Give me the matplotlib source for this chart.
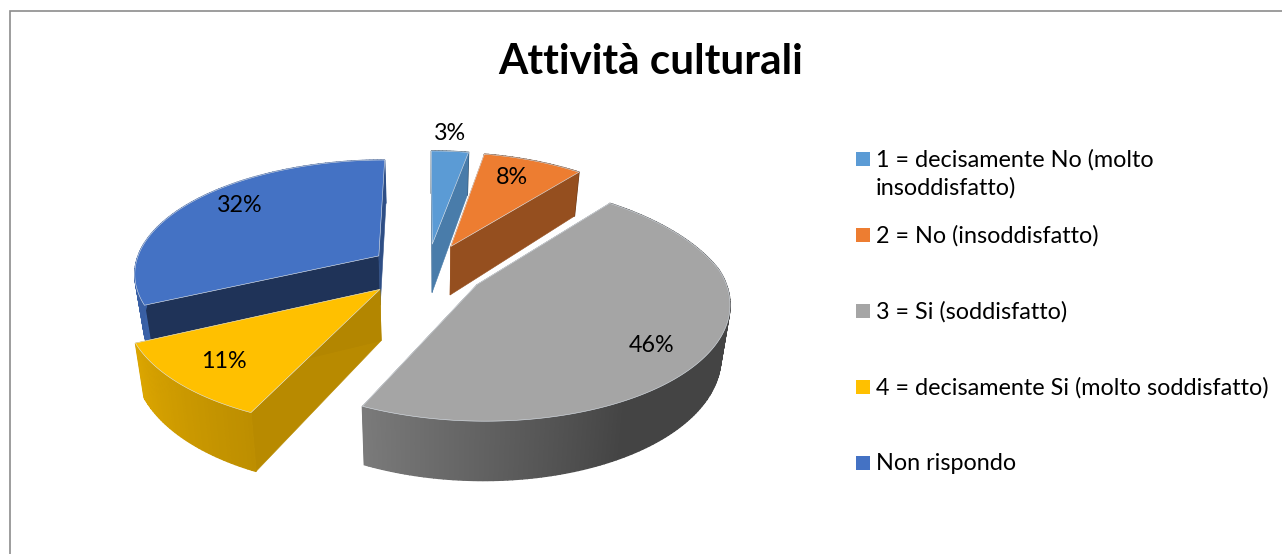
import numpy as np
import matplotlib
matplotlib.use("Agg")
import matplotlib.pyplot as plt
from matplotlib.patches import Rectangle

TITLE = "Attività culturali"
categories = [
    "1 = decisamente No (molto\ninsoddisfatto)",
    "2 = No (insoddisfatto)",
    "3 = Si (soddisfatto)",
    "4 = decisamente Si (molto soddisfatto)",
    "Non rispondo",
]
values = [3, 8, 46, 11, 32]
colors = ["#5B9BD5", "#ED7D31", "#A5A5A5", "#FFC000", "#4472C4"]

# layout, in pixels of the 1282x554 picture
CX, CY = 427, 270
RX, RY = 245, 113
PERSP = 0.14
DEPTH = 50
EXPLODE = 0.237
slice_dx = [0, 0, 0, -5, 0]
label_xy = [(450, 133), (512, 177), (652, 346), (224, 362), (240, 206)]
legend_y = [159, 235, 311, 387, 463]

# darkening of the two flat cut faces (start, end) of each slice
face_shade = [(0.7, 0.8), (0.7, 0.63), (0.6, 0.6), (0.72, 0.7), (0.45, 0.68)]
draw_order = [4, 0, 1, 2, 3]

plt.rcParams['font.family'] = ['Lato', 'DejaVu Sans']


def project(x, y, z=0.0):
    s = 1.0 / (1.0 - PERSP * y)
    sx = np.where((s > 1) | (np.asarray(x) < 0), s, s ** 1.35) * (1 - 0.03 * z)
    return CX + RX * x * sx, CY + RY * y * s + z * DEPTH * s


def wall_shade(theta):
    return np.interp(theta, [0, 150, 205, 245, 290, 360], [0.41, 0.41, 0.74, 0.86, 0.8, 0.7])


def darker(color, f):
    rgb = np.array(matplotlib.colors.to_rgb(color))
    return tuple(rgb * f)


fig = plt.figure(figsize=(12.82, 5.54), dpi=100)
ax = fig.add_axes([0, 0, 1, 1])
ax.set_xlim(0, 1282)
ax.set_ylim(554, 0)
ax.axis("off")

ax.plot([1282, 10, 10], [11, 11, 554], color="#8c8c8c", lw=1.2, solid_joinstyle="miter")

edges = np.cumsum([0] + values) / sum(values) * 360.0

for n, i in enumerate(draw_order):
    t0, t1 = edges[i], edges[i + 1]
    mid = np.radians((t0 + t1) / 2)
    ox, oy = EXPLODE * np.sin(mid), -EXPLODE * np.cos(mid)

    th = np.linspace(t0, t1, max(int(t1 - t0), 2) + 1)
    px = ox + np.sin(np.radians(th))
    py = oy - np.cos(np.radians(th))

    tx, ty = project(px, py)
    bx, by = project(px, py, 1.0)
    ax0, ay0 = project(ox, oy)
    ax1, ay1 = project(ox, oy, 1.0)
    tx, bx, ax0, ax1 = tx + slice_dx[i], bx + slice_dx[i], ax0 + slice_dx[i], ax1 + slice_dx[i]

    # back part of the wall goes under the cut faces, front part over them
    for k in range(len(th) - 1):
        tm = (th[k] + th[k + 1]) / 2
        z = 4 if 90 < tm < 270 else 1
        ax.fill([tx[k], tx[k + 1], bx[k + 1], bx[k]], [ty[k], ty[k + 1], by[k + 1], by[k]],
                color=darker(colors[i], wall_shade(tm)), lw=1.0, zorder=z + n * 6)

    for j, idx in enumerate([0, -1]):
        ax.fill([ax0, tx[idx], bx[idx], ax1], [ay0, ty[idx], by[idx], ay1],
                color=darker(colors[i], face_shade[i][j]), lw=0.4, zorder=2 + n * 6)

    ax.fill(np.r_[ax0, tx], np.r_[ay0, ty], facecolor=colors[i], edgecolor="#dfe6ee",
            lw=0.4, zorder=5 + n * 6)

for v, (lx, ly) in zip(values, label_xy):
    ax.text(lx, ly, f"{v}%", ha="center", va="center", fontsize=16.8, color="black", zorder=60)

ax.text(651, 62, TITLE, ha="center", va="center", fontsize=30.4, fontweight="bold", color="black")

for name, c, y in zip(categories, colors, legend_y):
    ax.add_patch(Rectangle((856, y - 7), 14, 14, facecolor=c, edgecolor="none"))
    ax.text(876, y - 10, name, ha="left", va="top", fontsize=16.8, color="black", linespacing=1.4)

plt.savefig("out.png", dpi=100)
